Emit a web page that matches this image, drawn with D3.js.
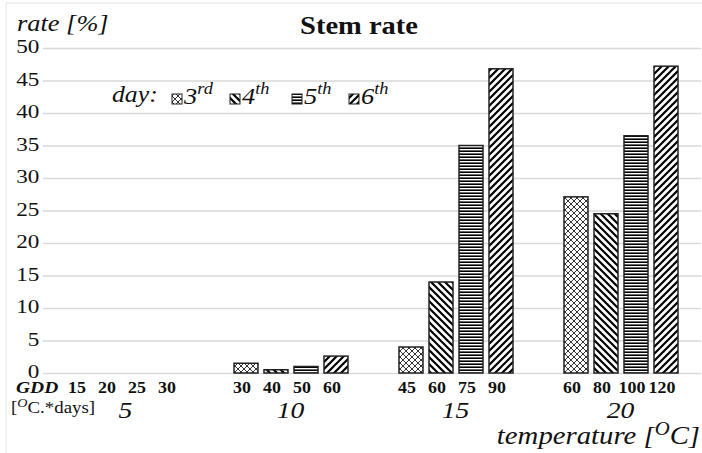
<!DOCTYPE html>
<html>
<head>
<meta charset="utf-8">
<script src="https://cdn.jsdelivr.net/npm/d3@7"></script>
<style>
  body { margin: 0; background: #fff; }
  text { font-family: "Liberation Serif", "Times New Roman", serif; fill: #111; }
  .grid line { stroke: #d9d9d9; stroke-width: 1.5; }
  .grid path { display: none; }
  .axis--y path, .axis--y line { display: none; }
  .bar { stroke: #222; stroke-width: 1.5; }
</style>
</head>
<body>
<svg class="chart" width="702" height="453"></svg>
<script>
var temperatures = ["5", "10", "15", "20"];
var days = ["3rd", "4th", "5th", "6th"];
var gddLabels = [
    ["15", "20", "25", "30"],
    ["30", "40", "50", "60"],
    ["45", "60", "75", "90"],
    ["60", "80", "100", "120"]
];
var rate3rd = [0, 1.5, 4.0, 27.1];
var rate4th = [0, 0.5, 14.0, 24.5];
var rate5th = [0, 1.0, 35.0, 36.5];
var rate6th = [0, 2.6, 46.8, 47.2];
var yTicks = [0, 5, 10, 15, 20, 25, 30, 35, 40, 45, 50];

// the source picture is a bit wider than tall, so widen the glyphs a little
function stretch(sel, sx) {
    sel.attr("transform", function() {
            var x = +this.getAttribute("x") || 0, y = +this.getAttribute("y") || 0;
            return "translate(" + x + "," + y + ") scale(" + sx + ",1)";
        })
        .attr("x", 0).attr("y", 0);
}

function drawStemChart() {
    var margin = {top: 48, left: 43},
        width = 660,
        height = 325;

    var svg = d3.select(".chart");

    // hatch patterns, one for each day
    var defs = svg.append("defs");
    var p3 = defs.append("pattern").attr("id", "pat-3rd")
        .attr("patternUnits", "userSpaceOnUse").attr("width", 6).attr("height", 6);
    p3.append("rect").attr("width", 6).attr("height", 6).attr("fill", "#fff");
    p3.append("path").attr("d", "M0,0L6,6M6,0L0,6")
        .attr("stroke", "#333").attr("stroke-width", 1);

    var p4 = defs.append("pattern").attr("id", "pat-4th")
        .attr("patternUnits", "userSpaceOnUse").attr("width", 7).attr("height", 7);
    p4.append("rect").attr("width", 7).attr("height", 7).attr("fill", "#fff");
    p4.append("path").attr("d", "M-2,-2L9,9M-2,5L2,9M5,-2L9,2")
        .attr("stroke", "#000").attr("stroke-width", 2.2);

    var p5 = defs.append("pattern").attr("id", "pat-5th")
        .attr("patternUnits", "userSpaceOnUse").attr("width", 6).attr("height", 3);
    p5.append("rect").attr("width", 6).attr("height", 3).attr("fill", "#fff");
    p5.append("path").attr("d", "M0,1.2H6")
        .attr("stroke", "#000").attr("stroke-width", 1.6);

    var p6 = defs.append("pattern").attr("id", "pat-6th")
        .attr("patternUnits", "userSpaceOnUse").attr("width", 7).attr("height", 7);
    p6.append("rect").attr("width", 7).attr("height", 7).attr("fill", "#fff");
    p6.append("path").attr("d", "M-2,9L9,-2M-2,2L2,-2M5,9L9,5")
        .attr("stroke", "#000").attr("stroke-width", 2.2);

    // faint outer frame
    svg.append("path")
        .attr("d", "M6,453V3H702")
        .attr("fill", "none").attr("stroke", "#e3e3e3").attr("stroke-width", 1);

    var x0 = d3.scaleBand()
        .domain(temperatures)
        .range([0, width]);

    var x1 = d3.scaleBand()
        .domain(days)
        .range([26, 140])
        .paddingInner(0.2);

    var y = d3.scaleLinear()
        .domain([0, 50])
        .range([height, 0]);

    var graph = svg.append("g")
        .attr("transform", "translate(" + margin.left + "," + margin.top + ")");

    graph.append("g")
            .attr("class", "grid")
            .call(d3.axisLeft(y).tickValues(yTicks).tickSize(-width + 2).tickFormat(""));

    graph.append("g")
            .attr("class", "axis axis--y")
            .call(d3.axisLeft(y).tickValues(yTicks).tickSize(0).tickPadding(3))
        .selectAll("text")
            .style("font-size", "19px")
            .attr("fill", "#111")
            .attr("dy", "0.24em")
            .attr("transform", "scale(1.22,1)");

    var series = [rate3rd, rate4th, rate5th, rate6th];
    var bars = [];
    temperatures.forEach(function(t, i) {
        days.forEach(function(d, j) {
            bars.push({temp: t, day: d, gdd: gddLabels[i][j], value: series[j][i]});
        });
    });

    graph.selectAll(".bar")
        .data(bars.filter(function(d) { return d.value > 0; }))
        .enter().append("rect")
            .attr("class", "bar")
            .attr("x", function(d) { return x0(d.temp) + x1(d.day); })
            .attr("width", x1.bandwidth())
            .attr("y", function(d) { return y(d.value); })
            .attr("height", function(d) { return height - y(d.value); })
            .attr("fill", function(d) { return "url(#pat-" + d.day + ")"; });

    // GDD row
    graph.selectAll(".gdd")
        .data(bars)
        .enter().append("text")
            .attr("class", "gdd")
            .attr("x", function(d) { return x0(d.temp) + x1(d.day) + x1.bandwidth() / 2 - 4; })
            .attr("y", height + 20)
            .attr("text-anchor", "middle")
            .style("font-size", "16px")
            .style("font-weight", "bold")
            .text(function(d) { return d.gdd; })
            .call(stretch, 1.12);

    // temperature labels
    graph.selectAll(".temp")
        .data(temperatures)
        .enter().append("text")
            .attr("class", "temp")
            .attr("x", function(d) { return x0(d) + x0.bandwidth() / 2; })
            .attr("y", height + 45)
            .attr("text-anchor", "middle")
            .style("font-size", "23px")
            .style("font-style", "italic")
            .text(function(d) { return d; })
            .call(stretch, 1.2);

    svg.append("text")
        .attr("x", 16).attr("y", 393)
        .style("font-size", "16px").style("font-weight", "bold").style("font-style", "italic")
        .text("GDD")
        .call(stretch, 1.22);

    var unit = svg.append("text")
        .attr("x", 11).attr("y", 413)
        .style("font-size", "16px");
    unit.append("tspan").text("[");
    unit.append("tspan").attr("dy", -6).style("font-size", "12px").style("font-style", "italic").text("O");
    unit.append("tspan").attr("dy", 6).text("C.*days]");
    unit.call(stretch, 1.18);

    var xTitle = svg.append("text")
        .attr("x", 700).attr("y", 444)
        .attr("text-anchor", "end")
        .style("font-size", "25px").style("font-style", "italic");
    xTitle.append("tspan").text("temperature [");
    xTitle.append("tspan").attr("dy", -9).style("font-size", "18px").text("O");
    xTitle.append("tspan").attr("dy", 9).text("C]");
    xTitle.call(stretch, 1.15);

    svg.append("text")
        .attr("x", 17).attr("y", 31)
        .style("font-size", "24px").style("font-style", "italic")
        .text("rate [%]")
        .call(stretch, 1.1);

    svg.append("text")
        .attr("x", 359).attr("y", 34)
        .attr("text-anchor", "middle")
        .style("font-size", "25px").style("font-weight", "bold")
        .text("Stem rate")
        .call(stretch, 1.14);

    // legend
    var legend = svg.append("g").attr("class", "legend");
    legend.append("text")
        .attr("x", 112).attr("y", 102)
        .style("font-size", "23px").style("font-style", "italic")
        .text("day:")
        .call(stretch, 1.12);

    var legendX = [172, 230, 292, 349];
    var item = legend.selectAll(".item")
        .data(days)
        .enter().append("g")
            .attr("class", "item")
            .attr("transform", function(d, i) { return "translate(" + legendX[i] + ",0)"; });

    item.append("rect")
        .attr("x", 0).attr("y", 94)
        .attr("width", 10).attr("height", 10)
        .attr("fill", function(d) { return "url(#pat-" + d + ")"; })
        .attr("stroke", "#222").attr("stroke-width", 1);

    var label = item.append("text")
        .attr("x", 12).attr("y", 104)
        .style("font-size", "23px").style("font-style", "italic");
    label.append("tspan").text(function(d) { return d.charAt(0); });
    label.append("tspan").attr("dy", -10).style("font-size", "16px")
        .text(function(d) { return d.slice(1); });
    label.call(stretch, 1.15);
}

drawStemChart();
</script>
</body>
</html>
